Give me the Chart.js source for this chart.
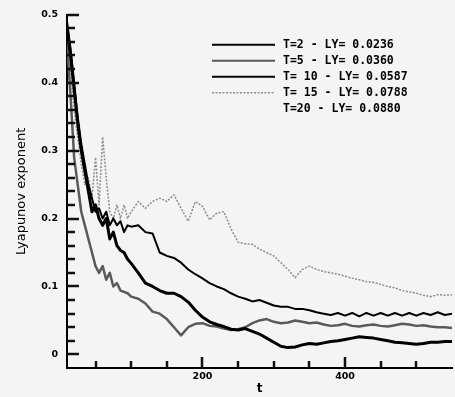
<!DOCTYPE html>
<html>
<head>
<meta charset="utf-8">
<script src="https://cdn.jsdelivr.net/npm/chart.js@4.4.1/dist/chart.umd.min.js"></script>
<style>
  html, body { margin: 0; padding: 0; background: #f4f4f4; }
  #wrap { width: 455px; height: 397px; }
</style>
</head>
<body>
<div id="wrap"><canvas id="myChart"></canvas></div>
<script>
const tValues = [10, 15, 20, 25, 30, 35, 40, 45, 50, 55, 60, 65, 70, 75, 80, 85, 90, 95,
  100, 110, 120, 130, 140, 150, 160, 170, 180, 190, 200, 210, 220, 230, 240, 250, 260,
  270, 280, 290, 300, 310, 320, 330, 340, 350, 360, 370, 380, 390, 400, 410, 420, 430,
  440, 450, 460, 470, 480, 490, 500, 510, 520, 530, 540, 550];

const seriesT2 = [0.48, 0.44, 0.39, 0.34, 0.30, 0.27, 0.24, 0.21, 0.22, 0.20, 0.19, 0.20,
  0.17, 0.18, 0.16, 0.153, 0.15, 0.14, 0.134, 0.12, 0.105, 0.10, 0.094, 0.09, 0.09,
  0.085, 0.077, 0.065, 0.055, 0.048, 0.044, 0.041, 0.037, 0.036, 0.038, 0.034, 0.03,
  0.024, 0.018, 0.012, 0.01, 0.011, 0.014, 0.016, 0.015, 0.017, 0.019, 0.02, 0.022,
  0.024, 0.026, 0.025, 0.024, 0.022, 0.02, 0.018, 0.017, 0.016, 0.015, 0.016, 0.018,
  0.018, 0.019, 0.019];

const seriesT5 = [0.46, 0.38, 0.29, 0.25, 0.21, 0.19, 0.17, 0.15, 0.13, 0.12, 0.13, 0.11,
  0.12, 0.10, 0.105, 0.094, 0.092, 0.09, 0.085, 0.082, 0.075, 0.063, 0.06, 0.052, 0.04,
  0.028, 0.04, 0.045, 0.046, 0.042, 0.041, 0.038, 0.036, 0.037, 0.04, 0.046, 0.05,
  0.052, 0.048, 0.046, 0.047, 0.05, 0.048, 0.046, 0.047, 0.044, 0.042, 0.043, 0.045,
  0.042, 0.041, 0.043, 0.044, 0.042, 0.041, 0.043, 0.045, 0.044, 0.042, 0.043, 0.041,
  0.040, 0.040, 0.039];

const seriesT10 = [0.49, 0.45, 0.40, 0.35, 0.31, 0.28, 0.25, 0.23, 0.21, 0.215, 0.20, 0.21,
  0.19, 0.20, 0.19, 0.196, 0.18, 0.19, 0.188, 0.19, 0.18, 0.178, 0.15, 0.145, 0.142,
  0.135, 0.125, 0.118, 0.112, 0.105, 0.10, 0.096, 0.09, 0.085, 0.082, 0.078, 0.08,
  0.076, 0.072, 0.07, 0.07, 0.067, 0.067, 0.065, 0.062, 0.06, 0.058, 0.061, 0.057,
  0.061, 0.056, 0.061, 0.057, 0.061, 0.057, 0.061, 0.057, 0.061, 0.057, 0.061, 0.058,
  0.062, 0.058, 0.06];

const seriesT15 = [0.47, 0.42, 0.36, 0.32, 0.28, 0.25, 0.26, 0.23, 0.29, 0.22, 0.32, 0.26,
  0.21, 0.20, 0.22, 0.20, 0.22, 0.20, 0.21, 0.225, 0.215, 0.225, 0.23, 0.225, 0.235,
  0.215, 0.196, 0.225, 0.218, 0.198, 0.208, 0.21, 0.185, 0.165, 0.163, 0.162, 0.155,
  0.15, 0.145, 0.135, 0.125, 0.113, 0.125, 0.13, 0.125, 0.122, 0.12, 0.118, 0.115,
  0.112, 0.11, 0.107, 0.106, 0.103, 0.10, 0.098, 0.094, 0.092, 0.09, 0.087, 0.085,
  0.088, 0.087, 0.088];

// no curve is visible for T=20 in the picture, only its legend text
const seriesT20 = [];

const seriesLabels = ["T=2 - LY= 0.0236", "T=5 - LY= 0.0360", "T= 10 - LY= 0.0587",
  "T= 15 - LY= 0.0788", "T=20 - LY= 0.0880"];

const xTickValues = [50, 100, 150, 200, 250, 300, 350, 400, 450, 500];

const toPoints = (values) => values.map((y, i) => ({ x: tValues[i], y }));

// legend drawn inside the plot, top right
const insideLegend = {
  id: "insideLegend",
  afterDatasetsDraw(chart) {
    const { ctx, chartArea } = chart;
    ctx.save();
    ctx.font = "bold 11.5px 'DejaVu Sans Mono'";
    ctx.textBaseline = "middle";
    chart.data.datasets.forEach((ds, i) => {
      const y = chartArea.top + 30 + i * 16;
      const x0 = chartArea.left + 145;
      ctx.strokeStyle = ds.borderColor;
      ctx.lineWidth = Math.min(ds.borderWidth, 2);
      ctx.setLineDash(ds.borderDash || []);
      ctx.beginPath();
      ctx.moveTo(x0, y);
      ctx.lineTo(x0 + 63, y);
      ctx.stroke();
      ctx.setLineDash([]);
      ctx.fillStyle = "#000";
      ctx.fillText(ds.label, x0 + 71, y);
    });
    ctx.restore();
  },
};

// tick marks pointing into the plot
const innerTicks = {
  id: "innerTicks",
  afterDraw(chart) {
    const c = chart.ctx;
    const area = chart.chartArea;
    const sx = chart.scales.x;
    const sy = chart.scales.y;
    c.save();
    c.strokeStyle = "#111111";
    c.lineWidth = 2.5;
    xTickValues.forEach((v) => {
      const px = Math.round(sx.getPixelForValue(v));
      c.beginPath();
      c.moveTo(px, area.bottom);
      c.lineTo(px, area.bottom - (v % 200 === 0 ? 11 : 7));
      c.stroke();
    });
    for (let k = 0; k <= 25; k++) {
      const py = Math.round(sy.getPixelForValue(k * 0.02));
      c.beginPath();
      c.moveTo(area.left, py);
      c.lineTo(area.left + (k % 5 === 0 ? 12 : 8), py);
      c.stroke();
    }
    c.restore();
  },
};

new Chart(document.getElementById("myChart"), {
  type: "line",
  data: {
    datasets: [
      { label: seriesLabels[0], data: toPoints(seriesT2), borderColor: "#000000", borderWidth: 3 },
      { label: seriesLabels[1], data: toPoints(seriesT5), borderColor: "#5a5a5a", borderWidth: 2.5 },
      { label: seriesLabels[2], data: toPoints(seriesT10), borderColor: "#000000", borderWidth: 2 },
      { label: seriesLabels[3], data: toPoints(seriesT15), borderColor: "#8c8c8c", borderWidth: 1.5, borderDash: [2, 1.5] },
      { label: seriesLabels[4], data: toPoints(seriesT20), borderColor: "rgba(0,0,0,0)", borderWidth: 1 },
    ],
  },
  options: {
    responsive: true,
    maintainAspectRatio: false,
    animation: false,
    layout: { padding: { top: 13, right: 0, left: 0, bottom: 0 } },
    elements: {
      point: { radius: 0 },
      line: { tension: 0, borderJoinStyle: "round" },
    },
    plugins: {
      legend: { display: false },
      tooltip: { enabled: false },
    },
    scales: {
      x: {
        type: "linear",
        min: 10,
        max: 550,
        afterFit: (scale) => { scale.height = 29; },
        ticks: {
          stepSize: 50,
          autoSkip: false,
          maxRotation: 0,
          padding: 3,
          color: "#000",
          font: { family: "DejaVu Sans", size: 9.5, weight: "bold" },
          callback: (v) => (v % 200 === 0 && v > 0 ? String(v) : ""),
        },
        grid: { display: true, drawOnChartArea: false, drawTicks: false },
        border: { display: true, color: "#000", width: 2 },
        title: {
          display: true,
          text: "t",
          color: "#000",
          font: { family: "DejaVu Sans", size: 12, weight: "bold" },
          padding: { top: 0, bottom: 1 },
        },
      },
      y: {
        min: -0.02,
        max: 0.5,
        afterFit: (scale) => { scale.width = 67; },
        ticks: {
          stepSize: 0.02,
          autoSkip: false,
          padding: 9,
          color: "#000",
          font: { family: "DejaVu Sans", size: 9.5, weight: "bold" },
          callback: (v) => {
            const major = Math.abs(v * 10 - Math.round(v * 10)) < 1e-6;
            if (!major || v < 0) return "";
            return Math.abs(v) < 1e-9 ? "0" : v.toFixed(1);
          },
        },
        grid: { display: true, drawOnChartArea: false, drawTicks: false },
        border: { display: true, color: "#000", width: 2 },
        title: {
          display: true,
          text: "Lyapunov exponent",
          color: "#000",
          font: { family: "DejaVu Sans", size: 13 },
          padding: { top: 14, bottom: 0 },
        },
      },
    },
  },
  plugins: [insideLegend, innerTicks],
});
</script>
</body>
</html>
